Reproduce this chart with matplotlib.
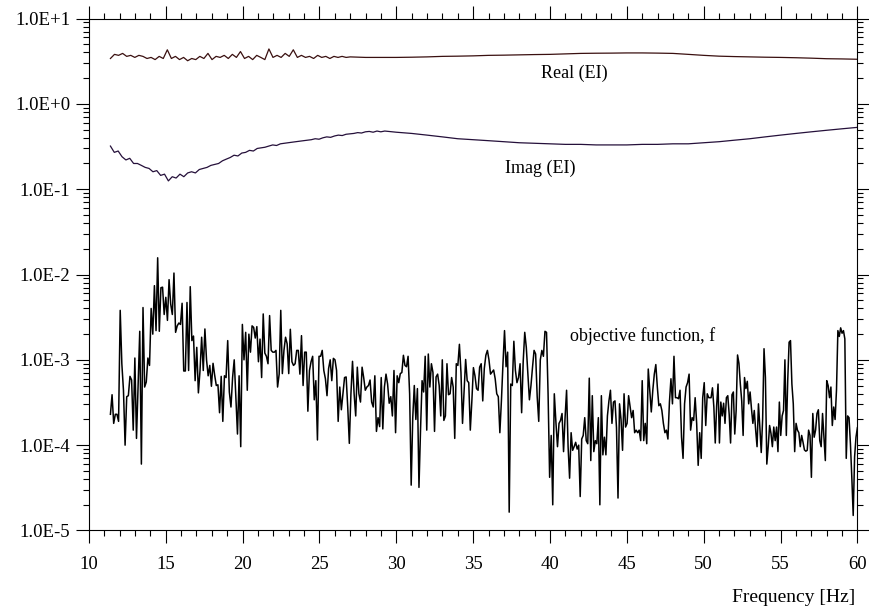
import numpy as np
import matplotlib.pyplot as plt
from matplotlib.ticker import MultipleLocator, LogLocator, FuncFormatter, NullFormatter

plt.rcParams['font.family'] = ['Liberation Serif', 'DejaVu Serif']

# objective function, read in five frequency bands (values in units of 1e-4)
band_start = [11.4, 20.2, 30.26, 40.39, 50.48]
band_end = [20.09, 30.16, 40.28, 50.33, 60.0]

obj_a = [2.3, 3.9, 1.8, 2.3, 2.3, 1.9, 38, 9, 4.4, 1.0,
         3.7, 3.8, 6.4, 5.8, 1.5, 10.5, 1.2, 5.2, 21.6, 0.6,
         41, 4.8, 5.5, 10.5, 8.6, 40, 20, 74, 22, 157,
         21.6, 70, 71, 34, 54, 29, 87, 45, 34, 104,
         21, 25, 27, 26, 46, 7.4, 7.4, 47, 7.5, 72,
         16.8, 19, 5.7, 14, 4.1, 7.5, 18.4, 7.5, 23, 10,
         6.5, 8.6, 4.9, 9.1, 6.6, 5.0, 5.1, 2.4, 6.4, 1.9,
         6.5, 6.2, 16.8, 4.2, 2.8, 6.2, 10, 3.7, 1.35, 6.5,
         0.96, 26, 10]
obj_b = [21, 4.4, 20, 12.3, 25, 24, 18, 24.5, 9.5, 17.5,
         6.2, 34.5, 12, 11, 9, 33, 12.9, 12.3, 12.3, 12.9,
         4.8, 6.8, 38, 6.9, 12.9, 18.4, 15.4, 6.9, 22.8, 9.5,
         8.6, 9, 12.9, 12.9, 6.8, 19.2, 5, 12.3, 12.3, 2.5,
         7.5, 9.5, 11, 3.4, 5.7, 1.15, 11, 11, 12.9, 7.5,
         6, 3.8, 7.9, 10, 5.7, 10.4, 10, 7.5, 1.9, 4.8,
         2.6, 4, 6.2, 6.3, 2.8, 1.05, 4, 9.6, 4, 2.2,
         8.2, 4, 3.2, 8.2, 6.2, 4.4, 4.8, 5, 5.8, 3.2,
         2.8, 6.5, 1.45, 2.1, 1.65, 6.2, 1.55, 4.8, 6.8, 5.2,
         3.1, 3.7, 2.2, 7.5, 1.4, 6.5, 5.4]
obj_c = [6.9, 7.1, 11.3, 8.6, 8.3, 11, 4, 0.34, 2.1, 5,
         2, 4.6, 0.32, 1.5, 5.7, 4.2, 11, 1.5, 11.7, 4.8,
         9, 7.1, 1.45, 6.3, 6.8, 5, 2.2, 10, 1.95, 2.2,
         9, 3.9, 4, 6.2, 4.8, 1.2, 9, 8.6, 15.2, 7.1,
         1.8, 4.4, 10.1, 5.7, 5.4, 1.5, 3.3, 8.1, 6.5, 4.6,
         4.4, 8.2, 9, 3.3, 7.9, 11.3, 12.9, 10, 6.8, 7.2,
         7.6, 6, 4, 3.7, 1.4, 3.3, 9, 22, 8.3, 12.3,
         0.164, 5.2, 5, 16.5, 7.5, 5.4, 6.2, 9, 2.4, 9.5,
         21, 14, 6.8, 3.4, 5, 8.2, 12.9, 11.7, 3.7, 1.9,
         10, 12.9, 11, 21.6, 21, 4, 0.42, 1.3, 0.2, 4]
obj_d = [1.8, 0.96, 1.8, 1.95, 2.35, 0.84, 2.1, 4.4, 0.96, 0.41,
         1.4, 0.87, 0.96, 1.08, 0.9, 1.0, 0.25, 1.18, 1.3, 2.1,
         1.13, 1.04, 6.1, 0.66, 3.8, 0.84, 1.13, 1.04, 2.1, 0.2,
         3.8, 0.77, 1.24, 0.77, 2.2, 3.3, 4.4, 1.8, 3.2, 3.3,
         1.6, 0.24, 3.05, 2.0, 0.87, 4.0, 1.63, 1.8, 3.8, 2.8,
         2.1, 2.55, 1.4, 1.5, 1.4, 1.5, 1.13, 5.7, 1.13, 1.8,
         1.04, 7.8, 4.4, 2.45, 4.4, 6.8, 8.8, 4.8, 2.9, 3.05,
         2.55, 1.8, 1.4, 1.5, 1.18, 3.2, 6, 3.05, 11, 3.6,
         3.6, 3.5, 4.4, 1.24, 0.7, 3.05, 4.8, 5.4, 6.8, 1.5,
         2.1, 1.95, 3.6, 1.8, 0.58, 1.4, 0.7, 3.6, 5.4, 1.7,
         4.0, 3.6]
obj_e = [3.6, 4.7, 2.8, 1.06, 2.9, 5.2, 1.06, 3.2, 2.2, 3.1,
         1.8, 3.6, 3.8, 2.3, 1.06, 3.9, 4.2, 1.35, 2.55, 11.4,
         9.1, 5.2, 3.3, 1.3, 6.2, 4.6, 5.6, 3.05, 4.2, 2.67,
         1.8, 2.55, 1.5, 0.96, 3.05, 1.63, 0.82, 2.0, 13.5, 6.2,
         0.6, 0.96, 1.7, 1.37, 0.96, 1.63, 1.13, 1.63, 0.84, 3.2,
         1.3, 2.2, 2.55, 10, 1.3, 5.7, 16.1, 16.8, 5.2, 3.05,
         0.84, 1.8, 1.5, 1.4, 0.96, 1.3, 1.08, 0.88, 0.85, 0.87,
         1.5, 1.3, 0.42, 2.35, 1.24, 1.5, 2.35, 2.6, 1.13, 0.96,
         2.35, 1.24, 0.66, 5.7, 5.0, 3.6, 4.8, 1.7, 2.8, 2.0,
         4.4, 22, 18.8, 23.7, 20.5, 22, 17.6, 0.7, 2.2, 2.1,
         1.04, 0.42, 0.15, 0.73, 1.24, 1.6]

# Real (EI): noisy part 11.4-27 Hz, smooth part 27-60 Hz (1 Hz steps)
real_noisy = [3.4, 3.8, 3.7, 3.9, 3.6, 3.7, 3.5, 3.7, 3.6, 3.4,
              3.5, 3.3, 3.6, 3.4, 4.3, 3.4, 3.6, 3.3, 3.5, 3.2,
              3.4, 3.3, 3.6, 3.4, 3.9, 3.3, 3.6, 3.5, 3.7, 3.4,
              3.8, 3.5, 4.1, 3.4, 3.6, 3.3, 3.7, 3.5, 3.3, 4.4,
              3.5, 3.7, 3.5, 3.9, 3.6, 4.3, 3.5, 3.7, 3.5, 3.6,
              3.4, 3.7, 3.5, 3.6, 3.4, 3.6, 3.5, 3.6, 3.5, 3.55]
real_smooth = [3.55, 3.5, 3.5, 3.5, 3.52, 3.55, 3.6, 3.62, 3.65, 3.7,
               3.72, 3.75, 3.78, 3.8, 3.85, 3.9, 3.92, 3.93, 3.95, 3.95,
               3.93, 3.9, 3.8, 3.7, 3.62, 3.58, 3.55, 3.52, 3.5, 3.47,
               3.43, 3.38, 3.36, 3.33]

# Imag (EI): noisy part 11.4-30 Hz, smooth part 30-60 Hz (1 Hz steps)
imag_noisy = [0.32, 0.27, 0.28, 0.24, 0.22, 0.23, 0.2, 0.2, 0.19, 0.18,
              0.175, 0.16, 0.165, 0.145, 0.15, 0.125, 0.14, 0.135, 0.15, 0.14,
              0.155, 0.16, 0.155, 0.17, 0.175, 0.18, 0.19, 0.195, 0.2, 0.215,
              0.225, 0.235, 0.25, 0.245, 0.265, 0.27, 0.285, 0.28, 0.3, 0.305,
              0.31, 0.32, 0.33, 0.325, 0.34, 0.345, 0.35, 0.355, 0.36, 0.365,
              0.37, 0.375, 0.38, 0.39, 0.385, 0.4, 0.41, 0.405, 0.42, 0.43,
              0.425, 0.44, 0.445, 0.45, 0.46, 0.455, 0.47, 0.475, 0.465, 0.48,
              0.47, 0.48, 0.475, 0.47, 0.465]
imag_smooth = [0.46, 0.45, 0.43, 0.41, 0.39, 0.38, 0.37, 0.36, 0.35, 0.345,
               0.34, 0.335, 0.335, 0.33, 0.33, 0.33, 0.335, 0.335, 0.34, 0.34,
               0.35, 0.36, 0.375, 0.39, 0.41, 0.43, 0.45, 0.47, 0.49, 0.51,
               0.53]

fig = plt.figure(figsize=(8.7, 6.13), dpi=100)
ax = fig.add_axes([0.1022, 0.1346, 0.8833, 0.8352])

# objective function
obj_f = []
obj_v = []
for f0, f1, vals in zip(band_start, band_end, [obj_a, obj_b, obj_c, obj_d, obj_e]):
    obj_f.append(np.linspace(f0, f1, len(vals)))
    obj_v.append(np.array(vals) * 1e-4)
ax.plot(np.concatenate(obj_f), np.concatenate(obj_v), color='black', lw=1.1)

# Real / Imag
real_f = np.concatenate([np.linspace(11.4, 27, len(real_noisy)), np.arange(27, 61)[1:]])
real_v = np.concatenate([real_noisy, real_smooth[1:]])
ax.plot(real_f, real_v, color='#3a1010', lw=0.9)

imag_f = np.concatenate([np.linspace(11.4, 30, len(imag_noisy)), np.arange(30, 61)[1:]])
imag_v = np.concatenate([imag_noisy, imag_smooth[1:]])
ax.plot(imag_f, imag_v, color='#25103a', lw=0.9)

ax.set_yscale('log')
ax.set_xlim(10, 60)
ax.set_ylim(1e-5, 1e1)

ax.xaxis.set_major_locator(MultipleLocator(5))
ax.xaxis.set_minor_locator(MultipleLocator(1))
ax.yaxis.set_major_locator(LogLocator(base=10, numticks=10))
ax.yaxis.set_minor_locator(LogLocator(base=10, subs=np.arange(2, 10), numticks=20))
ax.yaxis.set_minor_formatter(NullFormatter())
ax.yaxis.set_major_formatter(FuncFormatter(lambda v, p: f"1.0E{int(round(np.log10(v))):+d}"))

ax.tick_params(which='both', direction='out', top=True, right=True,
               labeltop=False, labelright=False, width=0.8, labelsize=13.5)
ax.tick_params(which='major', length=9.5)
ax.tick_params(which='minor', length=4.5)
ax.tick_params(axis='x', pad=9)
ax.tick_params(axis='y', pad=4)
for s in ax.spines.values():
    s.set_linewidth(0.8)

ax.text(41.6, 2.3, 'Real (EI)', fontsize=13, ha='center', va='center')
ax.text(39.35, 0.177, 'Imag (EI)', fontsize=13, ha='center', va='center')
ax.text(46.05, 1.9e-3, 'objective function, f', fontsize=13, ha='center', va='center')

fig.text(0.983, 0.0245, 'Frequency [Hz]', fontsize=14, ha='right', va='center')

fig.savefig('out.png', dpi=100)
